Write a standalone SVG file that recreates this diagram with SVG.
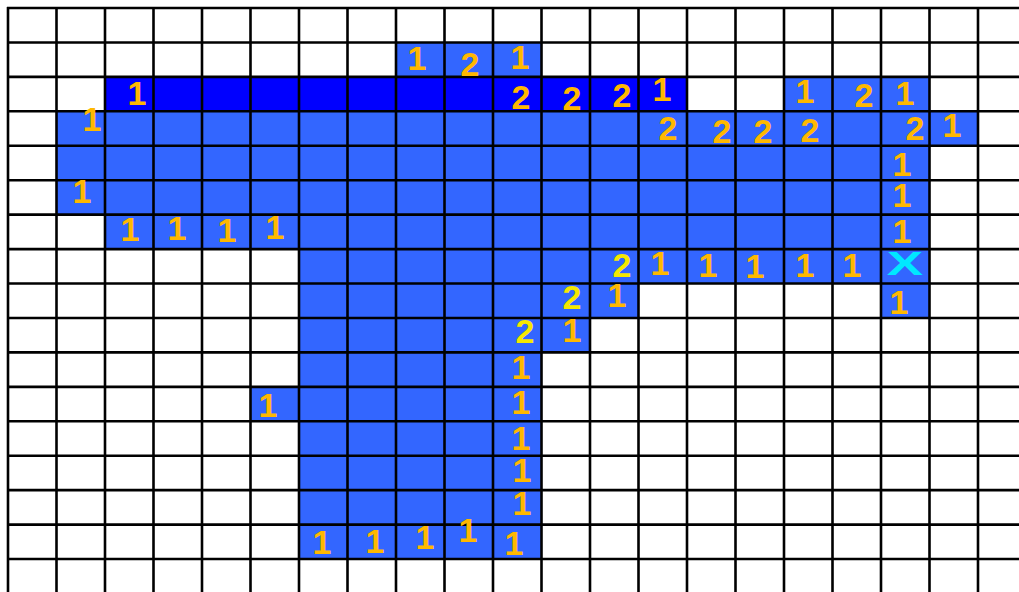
<svg xmlns="http://www.w3.org/2000/svg" width="1019" height="592" viewBox="0 0 1019 592">
<style>
.lb{fill:#3366FF}
.db{fill:#0000FF}
.g line{stroke:#000;stroke-width:2.6}
.n{font-family:"Liberation Sans",Arial,sans-serif;font-weight:bold;font-size:34px;text-anchor:middle;dominant-baseline:central;fill:#FFB800}
.y{fill:#F5E800}
.x{font-family:"Liberation Sans",Arial,sans-serif;font-weight:bold;font-size:34px;text-anchor:middle;dominant-baseline:central;fill:#00E8FF}
</style>
<rect width="1019" height="592" fill="#fff"/>
<g id="cells">
<rect class="lb" x="396" y="42.44" width="145.5" height="34.44"/>
<rect class="db" x="105" y="76.88" width="582" height="34.44"/>
<rect class="lb" x="784" y="76.88" width="145.5" height="34.44"/>
<rect class="lb" x="56.5" y="111.32" width="921.5" height="34.44"/>
<rect class="lb" x="56.5" y="145.76" width="873" height="68.88"/>
<rect class="lb" x="105" y="214.64" width="824.5" height="34.44"/>
<rect class="lb" x="299" y="249.08" width="630.5" height="34.44"/>
<rect class="lb" x="299" y="283.52" width="339.5" height="34.44"/>
<rect class="lb" x="881" y="283.52" width="48.5" height="34.44"/>
<rect class="lb" x="299" y="317.96" width="291" height="34.44"/>
<rect class="lb" x="299" y="352.4" width="242.5" height="34.44"/>
<rect class="lb" x="250.5" y="386.84" width="291" height="34.44"/>
<rect class="lb" x="299" y="421.28" width="242.5" height="137.76"/>
</g>
<g id="grid" class="g">
<line x1="8" y1="7" x2="8" y2="592"/><line x1="56.5" y1="7" x2="56.5" y2="592"/><line x1="105" y1="7" x2="105" y2="592"/><line x1="153.5" y1="7" x2="153.5" y2="592"/><line x1="202" y1="7" x2="202" y2="592"/><line x1="250.5" y1="7" x2="250.5" y2="592"/><line x1="299" y1="7" x2="299" y2="592"/><line x1="347.5" y1="7" x2="347.5" y2="592"/><line x1="396" y1="7" x2="396" y2="592"/><line x1="444.5" y1="7" x2="444.5" y2="592"/><line x1="493" y1="7" x2="493" y2="592"/><line x1="541.5" y1="7" x2="541.5" y2="592"/><line x1="590" y1="7" x2="590" y2="592"/><line x1="638.5" y1="7" x2="638.5" y2="592"/><line x1="687" y1="7" x2="687" y2="592"/><line x1="735.5" y1="7" x2="735.5" y2="592"/><line x1="784" y1="7" x2="784" y2="592"/><line x1="832.5" y1="7" x2="832.5" y2="592"/><line x1="881" y1="7" x2="881" y2="592"/><line x1="929.5" y1="7" x2="929.5" y2="592"/><line x1="978" y1="7" x2="978" y2="592"/>
<line x1="7" y1="8" x2="1019" y2="8"/><line x1="7" y1="42.44" x2="1019" y2="42.44"/><line x1="7" y1="76.88" x2="1019" y2="76.88"/><line x1="7" y1="111.32" x2="1019" y2="111.32"/><line x1="7" y1="145.76" x2="1019" y2="145.76"/><line x1="7" y1="180.2" x2="1019" y2="180.2"/><line x1="7" y1="214.64" x2="1019" y2="214.64"/><line x1="7" y1="249.08" x2="1019" y2="249.08"/><line x1="7" y1="283.52" x2="1019" y2="283.52"/><line x1="7" y1="317.96" x2="1019" y2="317.96"/><line x1="7" y1="352.4" x2="1019" y2="352.4"/><line x1="7" y1="386.84" x2="1019" y2="386.84"/><line x1="7" y1="421.28" x2="1019" y2="421.28"/><line x1="7" y1="455.72" x2="1019" y2="455.72"/><line x1="7" y1="490.16" x2="1019" y2="490.16"/><line x1="7" y1="524.6" x2="1019" y2="524.6"/><line x1="7" y1="559.04" x2="1019" y2="559.04"/>
</g>
<g id="labels">
<text class="n" x="417" y="58">1</text>
<text class="n" x="470" y="64">2</text>
<text class="n" x="520" y="57">1</text>
<text class="n" x="137" y="93">1</text>
<text class="n" x="521" y="97">2</text>
<text class="n" x="572" y="98">2</text>
<text class="n" x="622" y="95">2</text>
<text class="n" x="662" y="89">1</text>
<text class="n" x="805" y="91">1</text>
<text class="n" x="864" y="95">2</text>
<text class="n" x="905" y="93">1</text>
<text class="n" x="92" y="119">1</text>
<text class="n" x="668" y="128">2</text>
<text class="n" x="722" y="131">2</text>
<text class="n" x="763" y="131">2</text>
<text class="n" x="810" y="130">2</text>
<text class="n" x="915" y="128">2</text>
<text class="n" x="952" y="125">1</text>
<text class="n" x="902" y="164">1</text>
<text class="n" x="82" y="191">1</text>
<text class="n" x="902" y="195">1</text>
<text class="n" x="130" y="229">1</text>
<text class="n" x="177" y="228">1</text>
<text class="n" x="227" y="230">1</text>
<text class="n" x="275" y="227">1</text>
<text class="n" x="902" y="231">1</text>
<text class="n y" x="622" y="265">2</text>
<text class="n" x="660" y="263">1</text>
<text class="n" x="708" y="265">1</text>
<text class="n" x="755" y="266">1</text>
<text class="n" x="805" y="265">1</text>
<text class="n" x="852" y="265">1</text>
<text class="x" x="0" y="0" transform="translate(905 263) scale(1.6 1)">X</text>
<text class="n y" x="572" y="297">2</text>
<text class="n" x="617" y="295">1</text>
<text class="n" x="899" y="302">1</text>
<text class="n y" x="525" y="331">2</text>
<text class="n" x="572" y="330">1</text>
<text class="n" x="521" y="367">1</text>
<text class="n" x="268" y="405">1</text>
<text class="n" x="521" y="402">1</text>
<text class="n" x="521" y="438">1</text>
<text class="n" x="522" y="470">1</text>
<text class="n" x="522" y="503">1</text>
<text class="n" x="322" y="542">1</text>
<text class="n" x="375" y="541">1</text>
<text class="n" x="425" y="537">1</text>
<text class="n" x="468" y="530">1</text>
<text class="n" x="514" y="543">1</text>
</g>
</svg>
